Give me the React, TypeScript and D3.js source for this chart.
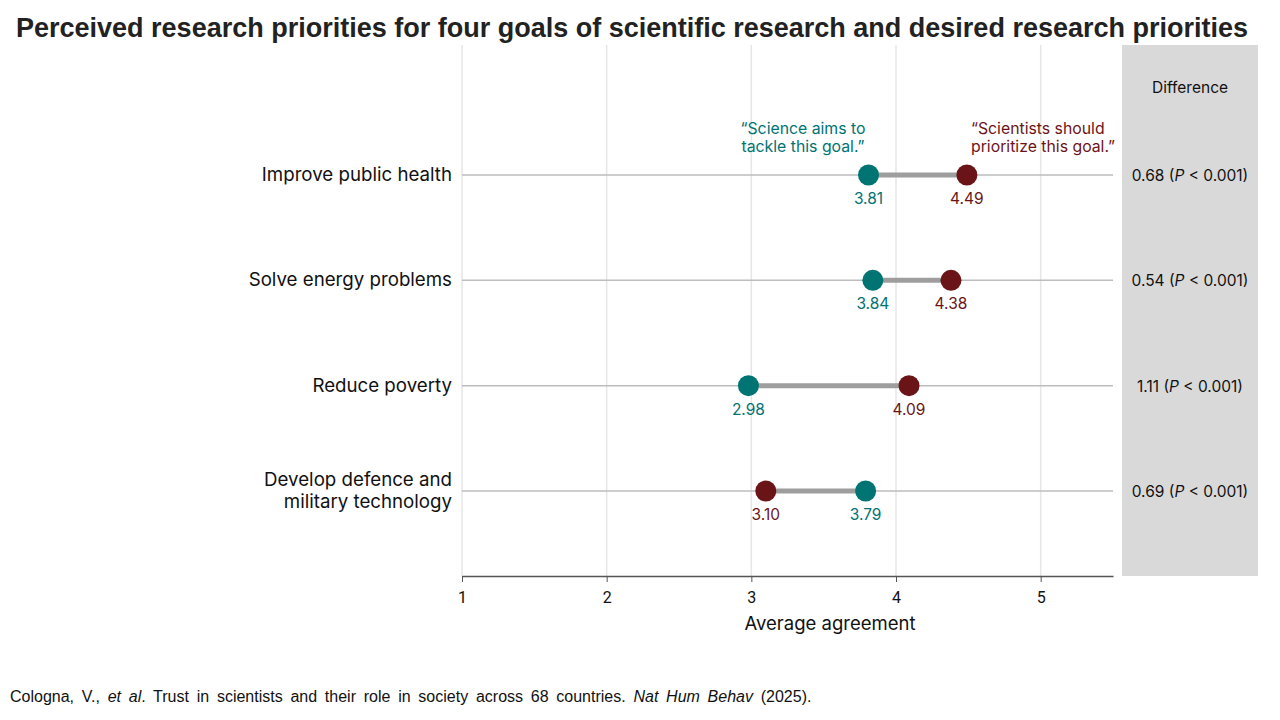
import React, { useEffect, useRef } from "react";
import * as d3 from "d3";

const goals = ["Improve public health", "Solve energy problems", "Reduce poverty", "Develop defence and|military technology"];
const aims = [3.81, 3.84, 2.98, 3.79];
const should = [4.49, 4.38, 4.09, 3.1];
const differences = ["0.68", "0.54", "1.11", "0.69"];
const ticks = [1, 2, 3, 4, 5];

const TEAL = "#007373";
const RED = "#6b1418";
const FONT = "Inter, 'Noto Sans', sans-serif";

export default function App() {
  const ref = useRef<SVGSVGElement>(null);

  useEffect(() => {
    const svg = d3.select(ref.current);
    svg.selectAll("*").remove();

    const x = d3.scaleLinear().domain([1, 5.5]).range([462, 1113]);
    const y = d3.scalePoint<string>().domain(goals).range([175, 491]);
    const top = 45;
    const bottom = 576;

    svg
      .append("text")
      .attr("x", 632)
      .attr("y", 37)
      .attr("text-anchor", "middle")
      .style("font-family", "'Liberation Sans', Arial, sans-serif")
      .style("font-weight", "bold")
      .style("font-size", "27px")
      .attr("fill", "#222")
      .text("Perceived research priorities for four goals of scientific research and desired research priorities");

    // difference panel
    svg.append("rect").attr("x", 1122).attr("y", top).attr("width", 136).attr("height", bottom - top).attr("fill", "#d9d9d9");
    svg
      .append("text")
      .attr("x", 1190)
      .attr("y", 93)
      .attr("text-anchor", "middle")
      .style("font-family", FONT)
      .style("font-size", "15.5px")
      .attr("fill", "#111")
      .text("Difference");

    // gridlines
    svg
      .append("g")
      .selectAll("line")
      .data(ticks)
      .join("line")
      .attr("x1", (d) => x(d))
      .attr("x2", (d) => x(d))
      .attr("y1", top)
      .attr("y2", bottom)
      .attr("stroke", "#e6e6e6")
      .attr("stroke-width", 1.5);

    // axis
    const axis = svg
      .append("g")
      .attr("transform", `translate(0,${bottom})`)
      .call(d3.axisBottom(x).tickValues(ticks).tickSize(6).tickSizeOuter(0).tickFormat(d3.format("d")));
    axis.select(".domain").attr("stroke", "#555").attr("stroke-width", 1.5);
    axis.selectAll(".tick line").attr("stroke", "#555");
    axis
      .selectAll(".tick text")
      .attr("y", 16)
      .style("font-family", "Roboto, sans-serif")
      .style("font-size", "16px")
      .attr("fill", "#111");

    svg
      .append("text")
      .attr("x", 830)
      .attr("y", 630)
      .attr("text-anchor", "middle")
      .style("font-family", FONT)
      .style("font-size", "18.5px")
      .attr("fill", "#111")
      .text("Average agreement");

    const rows = svg
      .append("g")
      .selectAll("g")
      .data(goals)
      .join("g")
      .attr("transform", (d) => `translate(0,${y(d)})`);

    rows
      .append("line")
      .attr("x1", x(1))
      .attr("x2", x(5.5))
      .attr("stroke", "#bdbdbd")
      .attr("stroke-width", 1.5);

    rows.each(function (d) {
      const lines = d.split("|");
      const t = d3
        .select(this)
        .append("text")
        .attr("x", 452)
        .attr("text-anchor", "end")
        .style("font-family", FONT)
        .style("font-size", "18.7px")
        .attr("fill", "#111");
      lines.forEach((l, k) => {
        t.append("tspan")
          .attr("x", 452)
          .attr("y", (k - (lines.length - 1) / 2) * 22 + 6)
          .text(l);
      });
    });

    rows
      .append("line")
      .attr("x1", (_, i) => x(aims[i]))
      .attr("x2", (_, i) => x(should[i]))
      .attr("stroke", "#9e9e9e")
      .attr("stroke-width", 5);

    const series = [
      { vals: aims, color: TEAL },
      { vals: should, color: RED },
    ];
    series.forEach((s) => {
      rows
        .append("circle")
        .attr("cx", (_, i) => x(s.vals[i]))
        .attr("r", 10.5)
        .attr("fill", s.color);
      rows
        .append("text")
        .attr("x", (_, i) => x(s.vals[i]))
        .attr("y", 29)
        .attr("text-anchor", "middle")
        .style("font-family", FONT)
        .style("font-size", "15.5px")
        .attr("fill", s.color)
        .text((_, i) => s.vals[i].toFixed(2));
    });

    const diff = rows
      .append("text")
      .attr("x", 1190)
      .attr("y", 6)
      .attr("text-anchor", "middle")
      .style("font-family", FONT)
      .style("font-size", "15.5px")
      .attr("fill", "#111");
    diff.append("tspan").text((_, i) => `${differences[i]} (`);
    diff.append("tspan").style("font-style", "italic").text("P");
    diff.append("tspan").text(" < 0.001)");

    // annotations
    const ann = [
      { lines: ["“Science aims to", "tackle this goal.”"], x: 803, anchor: "middle", color: TEAL },
      { lines: ["“Scientists should", "prioritize this goal.”"], x: 971, anchor: "start", color: RED },
    ];
    ann.forEach((a) => {
      const t = svg
        .append("text")
        .attr("text-anchor", a.anchor)
        .style("font-family", FONT)
        .style("font-size", "15.8px")
        .attr("fill", a.color);
      a.lines.forEach((l, k) => {
        t.append("tspan").attr("x", a.x).attr("y", 134 + k * 18).text(l);
      });
    });

    const src = svg
      .append("text")
      .attr("x", 10)
      .attr("y", 702)
      .style("font-family", "'Liberation Sans', Arial, sans-serif")
      .style("font-size", "16px")
      .style("word-spacing", "3.3px")
      .attr("fill", "#111");
    src.append("tspan").text("Cologna, V., ");
    src.append("tspan").style("font-style", "italic").text("et al");
    src.append("tspan").text(". Trust in scientists and their role in society across 68 countries. ");
    src.append("tspan").style("font-style", "italic").text("Nat Hum Behav");
    src.append("tspan").text(" (2025).");
  }, []);

  return (
    <svg
      ref={ref}
      width={1280}
      height={720}
      style={{ position: "absolute", left: 0, top: 0, background: "#fff" }}
    />
  );
}
